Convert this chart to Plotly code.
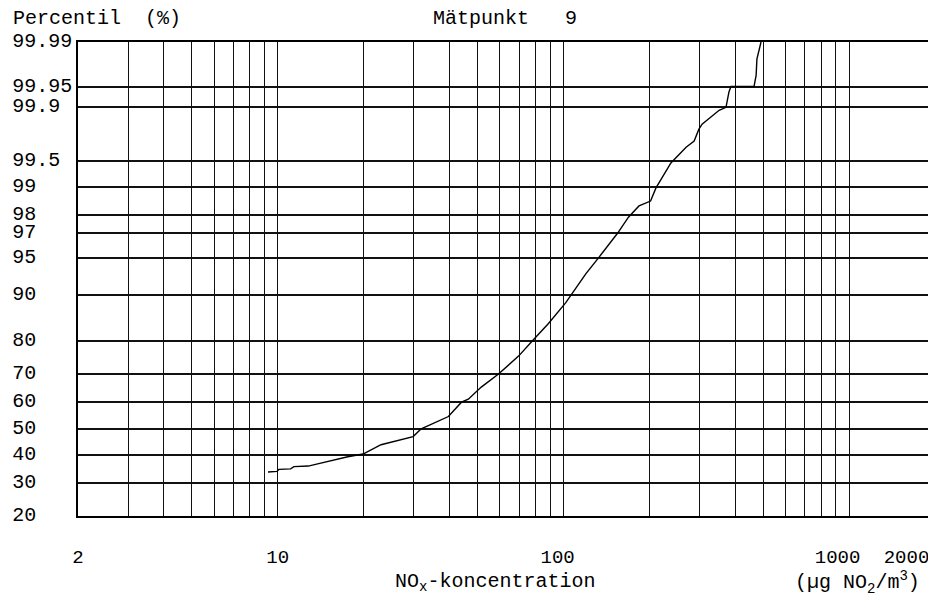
import math
from statistics import NormalDist
import plotly.graph_objects as go

# values
konc = [9.25, 9.94, 10.1, 11.1, 11.4, 12.8, 13.8, 17.6, 19.9, 23.0, 29.8, 31.8,
        39.6, 44.0, 46.5, 51.6, 59.3, 69.7, 77.4, 88.7, 102, 120, 133, 155, 169,
        184, 202, 211, 238, 269, 287, 298, 306, 351, 371, 380, 386, 465, 473, 476, 492]
percentil = [33.8, 34.0, 34.7, 34.9, 35.7, 35.9, 36.7, 39.3, 40.3, 43.8, 46.9, 49.9,
             54.6, 60.0, 61.1, 65.5, 70.0, 75.7, 79.8, 84.4, 88.7, 93.2, 95.0, 97.0, 97.9,
             98.39, 98.57, 98.97, 99.47, 99.66, 99.716, 99.80, 99.83, 99.89, 99.90, 99.94,
             99.95, 99.95, 99.966, 99.981, 99.99]

y_ticks = [20, 30, 40, 50, 60, 70, 80, 90, 95, 97, 98, 99, 99.5, 99.9, 99.95, 99.99]
y_labels = ["20", "30", "40", "50", "60", "70", "80", "90", "95", "97", "98", "99",
            "99.5", "99.9", "99.95", "99.99"]

x_ticks = [2, 3, 4, 5, 6, 7, 8, 9, 10, 20, 30, 40, 50, 60, 70, 80, 90, 100,
           200, 300, 400, 500, 600, 700, 800, 900, 1000, 2000]
x_labels = {2: "2", 10: "10", 100: "100", 1000: "1000", 2000: "2000"}

nd = NormalDist()
def z(p):
    return nd.inv_cdf(p / 100.0)

NB = "\u00a0"
FONT = "Liberation Mono"

# pad y labels so they read left-aligned
ylab = [s + NB * (5 - len(s)) for s in y_labels]
# trailing padding nudges the crowded right-hand labels left
xpad = {2: 0, 10: 0, 100: 1, 1000: 2, 2000: 5}
xlab = [x_labels[v] + NB * xpad[v] if v in x_labels else "" for v in x_ticks]

fig = go.Figure()
fig.add_trace(go.Scatter(x=konc, y=[z(p) for p in percentil], mode="lines",
                         line=dict(color="black", width=1.4), showlegend=False))

# page body has an 8px margin, so the figure is 8px smaller than the window
fig.update_layout(
    width=928, height=594,
    margin=dict(l=70, r=1, t=34, b=86),
    paper_bgcolor="white", plot_bgcolor="white",
    font=dict(family=FONT, size=20, color="black"),
    xaxis=dict(type="log", range=[math.log10(2), math.log10(2000)],
               tickmode="array", tickvals=x_ticks, ticktext=xlab,
               tickfont=dict(size=19), ticklabeloverflow="allow", tickangle=0,
               showgrid=True, gridcolor="#111", gridwidth=1.3,
               showline=True, linecolor="black", linewidth=1.5, mirror=True,
               ticks="", ticklabelstandoff=22, zeroline=False, automargin=False),
    yaxis=dict(range=[z(20), z(99.99)],
               tickmode="array", tickvals=[z(p) for p in y_ticks], ticktext=ylab,
               showgrid=True, gridcolor="#111", gridwidth=1.8,
               showline=True, linecolor="black", linewidth=1.5, mirror=True,
               ticks="", ticklabelstandoff=0, ticklabelshift=-2, zeroline=False,
               automargin=False),
    annotations=[
        dict(text="Percentil" + NB * 2 + "(%)", xref="paper", yref="paper",
             x=-0.078, y=1.05, xanchor="left", yanchor="middle", showarrow=False),
        dict(text="Mätpunkt" + NB * 3 + "9", xref="paper", yref="paper",
             x=0.498, y=1.05, xanchor="center", yanchor="middle", showarrow=False),
        dict(text="NO<sub>x</sub>-koncentration", xref="paper", yref="paper",
             x=0.487, y=-0.141, xanchor="center", yanchor="middle", showarrow=False),
        dict(text="(µg NO<sub>2</sub>/m<sup>3</sup>)", xref="paper", yref="paper",
             x=0.91, y=-0.141, xanchor="center", yanchor="middle", showarrow=False),
    ],
)

fig.write_html("out.html")
